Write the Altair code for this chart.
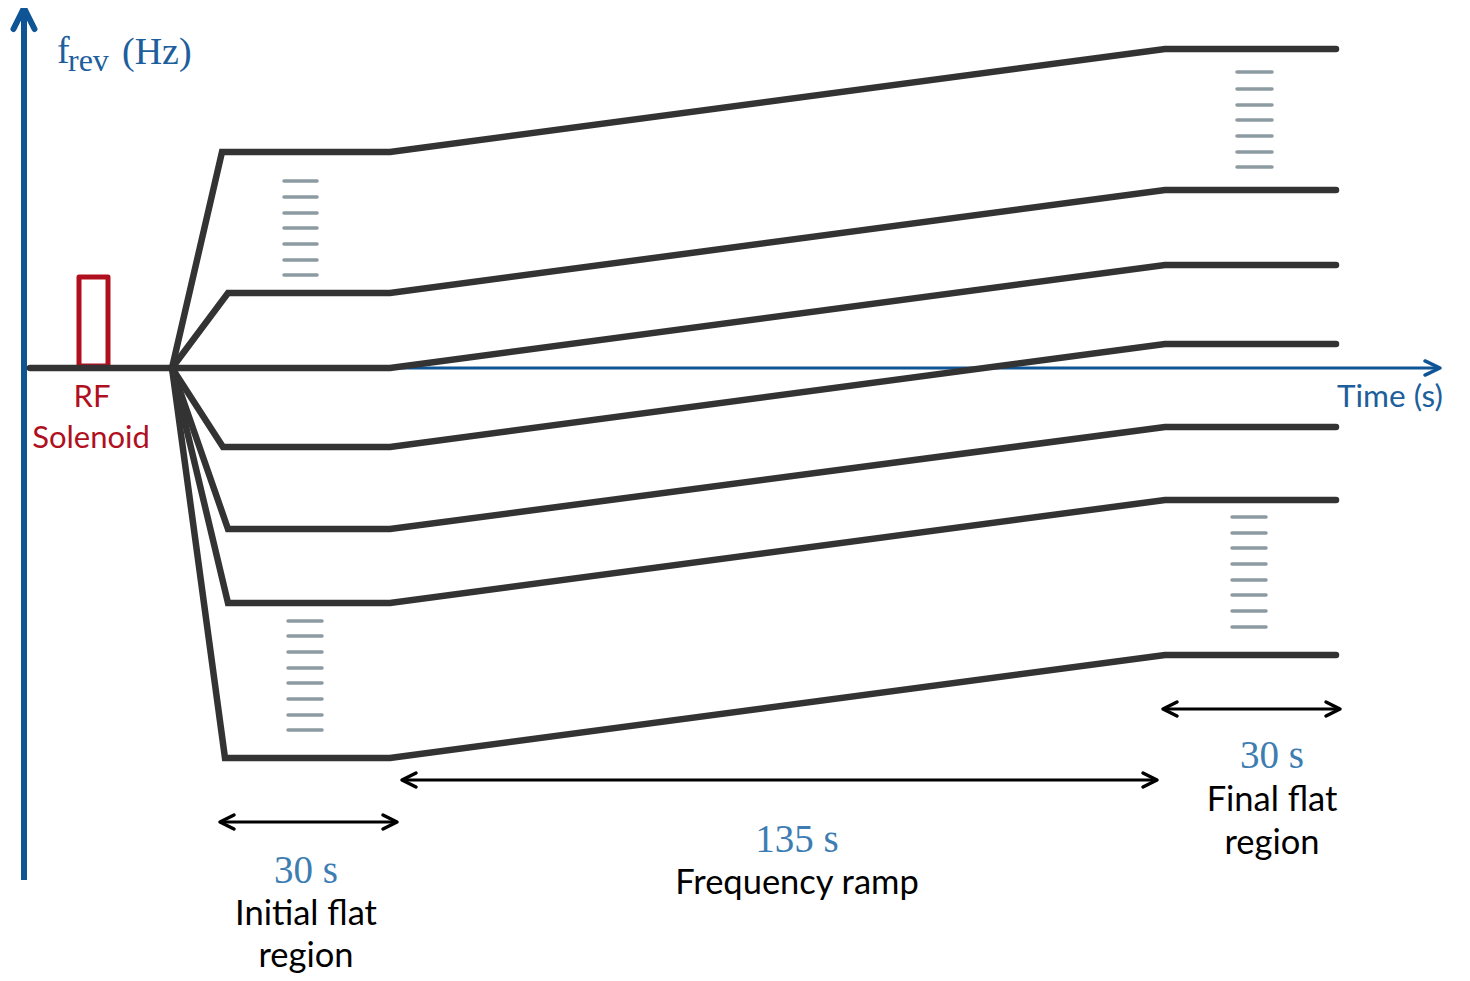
import altair as alt
import pandas as pd

# ---------------- data (schematic units) ----------------
# t: horizontal position (time direction), origin at the vertical axis
# f: revolution-frequency level, 0 = injection level (horizontal axis)
line_id     = ["L1", "L2", "L3", "L4", "L5", "L6", "L7"]
level_start = [216, 75, 0, -79, -161, -235, -390]      # level in the initial flat region
level_end   = [319, 178, 103, 24, -59, -132, -287]     # level in the final flat region
kick_t      = [198, 204, 199, 199, 204, 204, 201]      # where each level is reached
phase_t     = [148, 366, 1141, 1312]                   # injection, end of initial flat, end of ramp, end of final flat
baseline_t  = [6, 148]

# "ellipsis" dash stacks between the drawn levels
dash_ul_f = [187, 171, 155, 140, 124, 108, 93]
dash_ll_f = [-253, -268, -284, -300, -315, -331, -347, -362]
dash_ur_f = [296, 279, 263, 248, 232, 216, 201]
dash_lr_f = [-149, -165, -180, -196, -212, -227, -243, -259]
dash_t    = [(260, 293), (264, 298), (1213, 1248), (1208, 1242)]

# RF solenoid pulse box
rf_t = [55, 84]
rf_f = [2, 91]

# duration arrows (start, end, level)
span_start = [196, 378, 1139]
span_end   = [373, 1133, 1316]
span_f     = [-454, -412, -341]
span_label = ["30 s", "135 s", "30 s"]
span_caption = [["Initial flat", "region"], ["Frequency ramp"], ["Final flat", "region"]]
label_t    = [282, 773, 1248]
label_f    = [-515, -484, -400]
caption_gap = [42, 42, 43]

# axes extents
haxis_t = [0, 1416]
vaxis_f = [-512, 358]

BLUE = "#0f5595"
BLUE_T = "#1d5e9c"
LBLUE = "#3d7db2"
RED = "#b0101e"
DARK = "#333333"
GREY = "#8c9ba1"

xs = alt.Scale(domain=[-16, 1438], nice=False, zero=False)
ys = alt.Scale(domain=[-605, 360], nice=False, zero=False)


def X(c="t"):
    return alt.X(f"{c}:Q", scale=xs, axis=None)


def Y(c="f"):
    return alt.Y(f"{c}:Q", scale=ys, axis=None)


# ---------------- tables ----------------
rows = [dict(line="B", k=0, t=baseline_t[0], f=0), dict(line="B", k=1, t=baseline_t[1], f=0)]
for i, lid in enumerate(line_id):
    pts = [(phase_t[0], 0), (kick_t[i], level_start[i]), (phase_t[1], level_start[i]),
           (phase_t[2], level_end[i]), (phase_t[3], level_end[i])]
    for k, (t, f) in enumerate(pts):
        rows.append(dict(line=lid, k=k, t=t, f=f))
lines_df = pd.DataFrame(rows)

drows = []
for (t0, t1), fl in zip(dash_t, [dash_ul_f, dash_ll_f, dash_ur_f, dash_lr_f]):
    for f in fl:
        drows.append(dict(t=t0, t2=t1, f=f))
dash_df = pd.DataFrame(drows)

span_df = pd.DataFrame(dict(t=span_start, t2=span_end, f=span_f))
heads_df = pd.DataFrame(
    [dict(t=s, f=f, d="left") for s, f in zip(span_start, span_f)]
    + [dict(t=e, f=f, d="right") for e, f in zip(span_end, span_f)]
)

hax_df = pd.DataFrame(dict(t=[haxis_t[0]], t2=[haxis_t[1]], f=[0]))
vax_df = pd.DataFrame(dict(t=[0], f=[vaxis_f[0]], f2=[vaxis_f[1]]))
hhead_df = pd.DataFrame(dict(t=[haxis_t[1]], f=[0]))
vhead_df = pd.DataFrame(dict(t=[0], f=[vaxis_f[1] + 2]))
rf_df = pd.DataFrame(dict(t=[rf_t[0]], t2=[rf_t[1]], f=[rf_f[0]], f2=[rf_f[1]]))

lab_df = pd.DataFrame(dict(t=label_t, f=label_f, text=span_label))
crows = []
for lt, lf, caps, gap in zip(label_t, label_f, span_caption, caption_gap):
    for j, c in enumerate(caps):
        crows.append(dict(t=lt, f=lf - gap * (j + 1), text=c))
cap_df = pd.DataFrame(crows)

rf_text_df = pd.DataFrame(dict(t=[68, 67], f=[-39, -80], text=["RF", "Solenoid"]))
time_df = pd.DataFrame(dict(t=[1313], f=[-39], text=["Time (s)"]))
fmain_df = pd.DataFrame(dict(t=[33, 98], f=[305, 304], text=["f", "(Hz)"]))
fsub_df = pd.DataFrame(dict(t=[44], f=[297], text=["rev"]))

# ---------------- layers ----------------
hax = alt.Chart(hax_df).mark_rule(color=BLUE, strokeWidth=3).encode(x=X(), x2="t2:Q", y=Y())
vax = alt.Chart(vax_df).mark_rule(color=BLUE, strokeWidth=6).encode(x=X(), y=Y(), y2="f2:Q")

right_path = "M-1,-0.47L0,0L-1,0.47"
up_path = "M-0.5,1L0,0L0.5,1"
hhead = alt.Chart(hhead_df).mark_point(
    shape=right_path, size=900, filled=False, stroke=BLUE, strokeWidth=3.5, opacity=1,
    strokeCap="round", strokeJoin="round"
).encode(x=X(), y=Y())
vhead = alt.Chart(vhead_df).mark_point(
    shape=up_path, size=1764, filled=False, stroke=BLUE, strokeWidth=6, opacity=1,
    strokeCap="round", strokeJoin="round"
).encode(x=X(), y=Y())

lines = alt.Chart(lines_df).mark_line(
    color=DARK, strokeWidth=6.5, strokeCap="round", strokeJoin="miter"
).encode(x=X(), y=Y(), detail="line:N", order="k:Q")

rf_box = alt.Chart(rf_df).mark_rect(
    fill=None, stroke=RED, strokeWidth=5, strokeJoin="round"
).encode(x=X(), x2="t2:Q", y=Y(), y2="f2:Q")

dashes = alt.Chart(dash_df).mark_rule(color=GREY, strokeWidth=3.5, strokeCap="round").encode(
    x=X(), x2="t2:Q", y=Y()
)

spans = alt.Chart(span_df).mark_rule(color="#000000", strokeWidth=3).encode(x=X(), x2="t2:Q", y=Y())
heads = alt.Chart(heads_df).mark_point(
    filled=False, size=784, stroke="#000000", strokeWidth=3.5, opacity=1,
    strokeCap="round", strokeJoin="round"
).encode(
    x=X(), y=Y(),
    shape=alt.Shape("d:N", scale=alt.Scale(domain=["left", "right"],
                                           range=["M1,-0.5L0,0L1,0.5", "M-1,-0.5L0,0L-1,0.5"]),
                    legend=None),
)

labels = alt.Chart(lab_df).mark_text(
    font="Liberation Serif", fontSize=39, color=LBLUE, align="center", baseline="alphabetic"
).encode(x=X(), y=Y(), text="text:N")
captions = alt.Chart(cap_df).mark_text(
    font="Lato", fontSize=34.5, color="#000000", align="center", baseline="alphabetic"
).encode(x=X(), y=Y(), text="text:N")
rf_text = alt.Chart(rf_text_df).mark_text(
    font="Lato", fontSize=31, color=RED, align="center", baseline="alphabetic"
).encode(x=X(), y=Y(), text="text:N")
time_text = alt.Chart(time_df).mark_text(
    font="Lato", fontSize=31.5, color=BLUE_T, align="left", baseline="alphabetic"
).encode(x=X(), y=Y(), text="text:N")
fmain = alt.Chart(fmain_df).mark_text(
    font="Liberation Serif", fontSize=38, color=BLUE_T, align="left", baseline="alphabetic"
).encode(x=X(), y=Y(), text="text:N")
fsub = alt.Chart(fsub_df).mark_text(
    font="Liberation Serif", fontSize=32, color=BLUE_T, align="left", baseline="alphabetic"
).encode(x=X(), y=Y(), text="text:N")

chart = alt.layer(
    hax, vax, hhead, vhead, rf_box, lines, dashes, spans, heads,
    labels, captions, rf_text, time_text, fmain, fsub
).properties(
    width=1454, height=965, padding=0,
    autosize=alt.AutoSizeParams(type="none"),
    background="#ffffff",
).configure_view(stroke=None)

chart.save("out.html", embed_options={"renderer": "svg", "actions": False})
